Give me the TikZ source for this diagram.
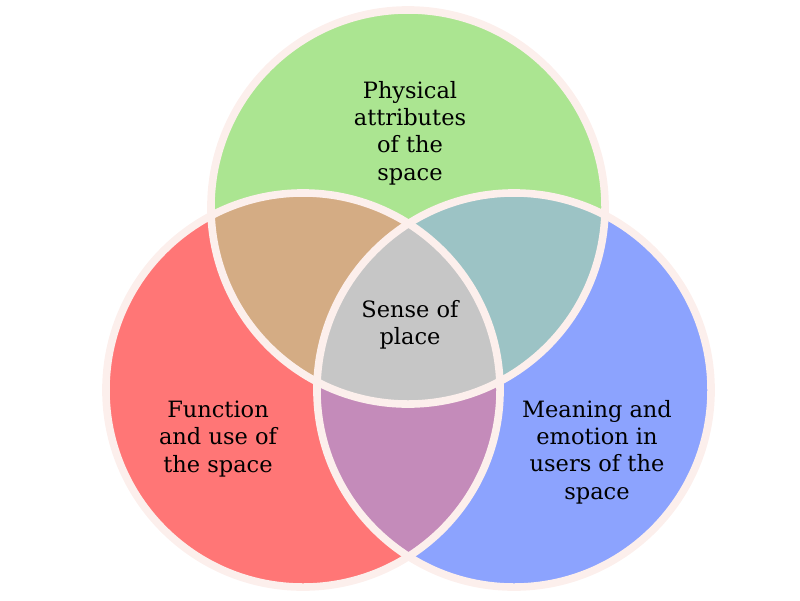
\documentclass[tikz,border=0pt]{standalone}
\usepackage{fontspec}
\setmainfont{DejaVu Serif}
\usepackage{tikz}

\definecolor{physgreen}{HTML}{ABE591}
\definecolor{funcred}{HTML}{FF7676}
\definecolor{meanblue}{HTML}{8CA3FE}
\definecolor{mixtan}{HTML}{D4AC84}
\definecolor{mixteal}{HTML}{9CC3C5}
\definecolor{mixpurple}{HTML}{C48BBA}
\definecolor{mixgray}{HTML}{C6C6C6}
\definecolor{rimpink}{HTML}{FCEFEC}

\begin{document}
\begin{tikzpicture}[x=0.025cm, y=-0.025cm,
ring/.style={draw=rimpink, line width=0.19cm},
vennlabel/.style={align=center, text=black, font=\fontsize{16}{19.5}\selectfont},
]
\useasboundingbox (0,0) rectangle (800,600);
%Centres
\coordinate (physical) at (408,207);
\coordinate (function) at (303,390);
\coordinate (meaning)  at (514,390);
\def\vennr{4.925cm}

%Circles
\fill[physgreen] (physical) circle (\vennr);
\fill[funcred]   (function) circle (\vennr);
\fill[meanblue]  (meaning)  circle (\vennr);

%Overlaps
\begin{scope}
\clip (physical) circle (\vennr);
\fill[mixtan]  (function) circle (\vennr);
\fill[mixteal] (meaning)  circle (\vennr);
\end{scope}
\begin{scope}
\clip (function) circle (\vennr);
\fill[mixpurple] (meaning) circle (\vennr);
\clip (meaning) circle (\vennr);
\fill[mixgray] (physical) circle (\vennr);
\end{scope}

%Rims
\draw[ring] (physical) circle (\vennr);
\draw[ring] (function) circle (\vennr);
\draw[ring] (meaning)  circle (\vennr);

%Labels
\node[vennlabel] (physlabel) at (410,133) {Physical\\attributes\\of the\\space};
\node[vennlabel] (senselabel) at (410,325) {Sense of\\place};
\node[vennlabel] (funclabel) at (218,439) {Function\\and use of\\the space};
\node[vennlabel] (meanlabel) at (597,452) {Meaning and\\emotion in\\users of the\\space};
\end{tikzpicture}
\end{document}
